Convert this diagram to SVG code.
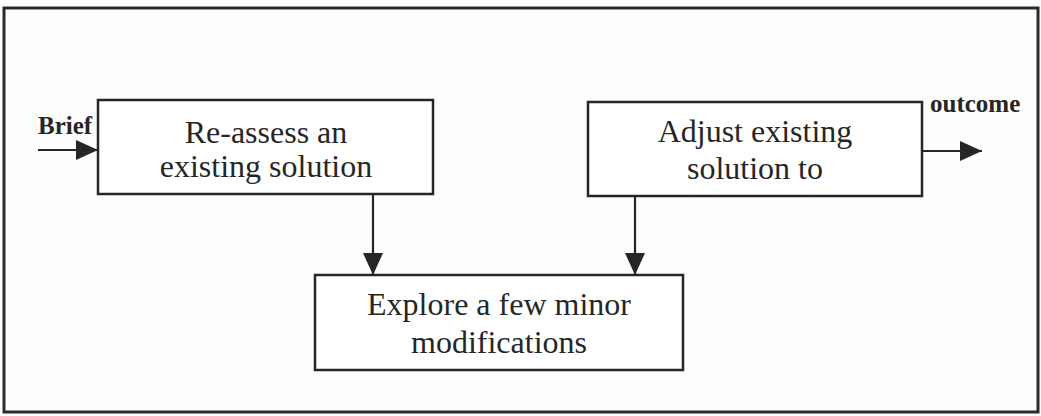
<svg xmlns="http://www.w3.org/2000/svg" width="1041" height="416" viewBox="0 0 1041 416">
<style>
.frame{fill:none;stroke:#2a2a2a;stroke-width:3}
.box{fill:#ffffff;stroke:#262626;stroke-width:2.5}
.lbl{font-family:"Liberation Serif","Times New Roman",serif;font-size:32px;fill:#262626;text-anchor:middle}
.ext{font-family:"Liberation Serif","Times New Roman",serif;font-size:25px;font-weight:bold;fill:#262626}
.con{fill:none;stroke:#262626;stroke-width:2.2}
</style>
<defs>
<marker id="ah" viewBox="0 0 22 22" refX="22" refY="11" markerWidth="22" markerHeight="22" markerUnits="userSpaceOnUse" orient="auto">
<path d="M0,1 L22,11 L0,21 z" fill="#262626"/>
</marker>
</defs>
<rect x="0" y="0" width="1041" height="416" fill="#fdfdfd"/>
<rect class="frame" x="4" y="8" width="1034" height="404"/>
<g id="connectors">
<line class="con" x1="38" y1="150" x2="98" y2="150" marker-end="url(#ah)"/>
<line class="con" x1="922" y1="151" x2="982" y2="151" marker-end="url(#ah)"/>
<line class="con" x1="373" y1="194" x2="373" y2="275" marker-end="url(#ah)"/>
<line class="con" x1="635" y1="196" x2="635" y2="275" marker-end="url(#ah)"/>
</g>
<g id="brief-label"><text class="ext" x="38" y="134">Brief</text></g>
<g id="outcome-label"><text class="ext" x="930" y="112">outcome</text></g>
<g id="node-reassess">
<rect class="box" x="98" y="100" width="335" height="94"/>
<text class="lbl" x="266" y="143">Re-assess an</text>
<text class="lbl" x="266" y="177">existing solution</text>
</g>
<g id="node-adjust">
<rect class="box" x="588" y="102" width="334" height="94"/>
<text class="lbl" x="755" y="142">Adjust existing</text>
<text class="lbl" x="755" y="179">solution to</text>
</g>
<g id="node-explore">
<rect class="box" x="315" y="275" width="368" height="95"/>
<text class="lbl" x="499" y="315">Explore a few minor</text>
<text class="lbl" x="499" y="353">modifications</text>
</g>
</svg>
